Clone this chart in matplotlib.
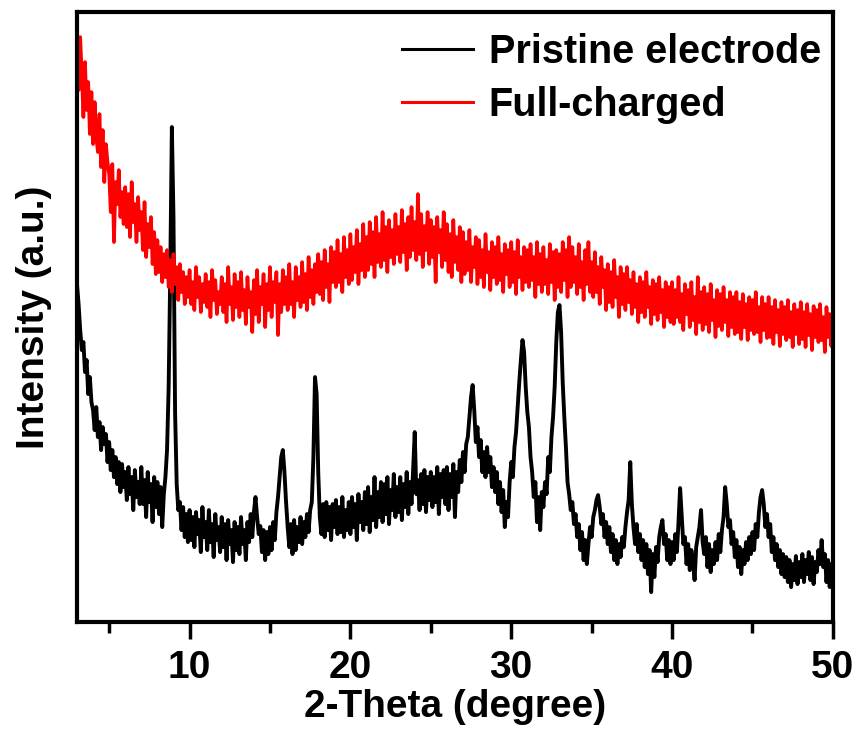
import numpy as np
import matplotlib
matplotlib.use('Agg')
import matplotlib.pyplot as plt

# scan grid, 0.1 degree step from 3 to 50
two_theta = np.round(np.arange(3.0, 50.05, 0.1), 1)

# intensities (arbitrary units), one row per degree
pristine = [
    338, 318, 292, 272, 280, 250, 262, 228, 245, 220,  # 3
    212, 192, 215, 185, 200, 172, 195, 178, 188, 160,  # 4
    180, 152, 172, 145, 165, 138, 160, 130, 158, 135,  # 5
    150, 122, 155, 128, 145, 112, 152, 125, 140, 118,  # 6
    155, 118, 142, 105, 150, 120, 138, 100, 145, 115,  # 7
    140, 108, 135, 95, 128, 145, 172, 235, 350, 495,  # 8
    405, 210, 138, 112, 120, 92, 115, 85, 108, 80,  # 9
    112, 82, 105, 75, 110, 88, 102, 70, 115, 85,  # 10
    100, 72, 112, 80, 98, 65, 108, 82, 95, 70,  # 11
    105, 75, 98, 62, 102, 78, 92, 60, 100, 72,  # 12
    95, 68, 105, 78, 92, 62, 100, 80, 108, 85,  # 13
    110, 125, 105, 88, 96, 70, 92, 62, 90, 68,  # 14
    95, 72, 100, 82, 110, 125, 145, 165, 172, 150,  # 15
    120, 95, 75, 98, 68, 102, 72, 95, 80, 105,  # 16
    78, 100, 85, 108, 90, 112, 120, 165, 245, 228,  # 17
    150, 105, 88, 118, 85, 120, 92, 115, 82, 118,  # 18
    95, 122, 88, 115, 90, 125, 85, 112, 92, 120,  # 19
    88, 125, 95, 118, 82, 128, 100, 120, 92, 130,  # 20
    98, 135, 90, 125, 102, 145, 95, 130, 105, 140,  # 21
    100, 138, 108, 145, 98, 132, 112, 148, 105, 135,  # 22
    110, 145, 102, 138, 115, 150, 108, 140, 118, 152,  # 23
    190, 128, 142, 112, 148, 118, 152, 110, 145, 122,  # 24
    150, 115, 145, 120, 155, 108, 148, 125, 152, 118,  # 25
    155, 112, 148, 125, 158, 105, 150, 130, 162, 140,  # 26
    170, 150, 178, 185, 205, 225, 237, 212, 180, 195,  # 27
    165, 182, 150, 170, 145, 175, 150, 165, 135, 155,  # 28
    130, 150, 118, 140, 110, 132, 95, 120, 105, 140,  # 29
    160, 145, 175, 190, 215, 240, 262, 282, 270, 235,  # 30
    210, 195, 165, 150, 125, 140, 100, 125, 92, 130,  # 31
    115, 140, 128, 165, 150, 185, 205, 235, 280, 310,  # 32
    317, 290, 240, 205, 175, 140, 128, 112, 120, 98,  # 33
    108, 85, 98, 72, 90, 62, 82, 58, 78, 95,  # 34
    85, 105, 112, 122, 127, 115, 98, 108, 85, 100,  # 35
    78, 95, 70, 88, 62, 82, 58, 78, 65, 85,  # 36
    75, 95, 110, 122, 160, 118, 95, 78, 98, 70,  # 37
    88, 62, 82, 55, 78, 48, 72, 30, 68, 45,  # 38
    75, 60, 85, 95, 102, 78, 88, 62, 82, 58,  # 39
    80, 62, 88, 70, 100, 134, 105, 78, 85, 58,  # 40
    78, 52, 72, 60, 42, 75, 85, 95, 112, 80,  # 41
    68, 85, 55, 78, 50, 72, 58, 80, 62, 88,  # 42
    70, 92, 105, 135, 118, 95, 102, 78, 90, 65,  # 43
    82, 55, 75, 48, 72, 58, 80, 62, 85, 68,  # 44
    90, 72, 98, 85, 110, 125, 132, 118, 95, 108,  # 45
    85, 98, 70, 85, 62, 78, 55, 72, 48, 68,  # 46
    45, 65, 40, 62, 35, 58, 42, 66, 38, 60,  # 47
    45, 68, 40, 62, 48, 70, 42, 65, 38, 60,  # 48
    50, 72, 58, 82, 55, 68, 40, 62, 35, 58,  # 49
    48,
]

full_charged = [
    590, 532, 585, 548, 505, 560, 512, 540, 488, 530,  # 3
    478, 520, 485, 470, 508, 455, 492, 440, 478, 460,  # 4
    448, 410, 458, 380, 440, 418, 452, 405, 430, 398,  # 5
    435, 395, 428, 385, 440, 400, 418, 380, 425, 392,  # 6
    410, 372, 420, 365, 398, 375, 405, 358, 390, 348,  # 7
    382, 350, 375, 340, 368, 345, 372, 335, 362, 330,  # 8
    368, 338, 355, 322, 358, 330, 350, 318, 345, 325,  # 9
    352, 318, 340, 312, 355, 325, 345, 310, 338, 320,  # 10
    348, 315, 340, 305, 352, 322, 342, 308, 330, 318,  # 11
    345, 310, 338, 300, 355, 318, 335, 302, 348, 315,  # 12
    340, 305, 350, 312, 332, 298, 345, 315, 330, 290,  # 13
    342, 308, 352, 300, 335, 318, 348, 295, 338, 312,  # 14
    355, 305, 340, 320, 350, 287, 338, 310, 352, 318,  # 15
    345, 312, 358, 318, 340, 305, 355, 322, 345, 315,  # 16
    360, 320, 348, 312, 365, 325, 352, 318, 358, 330,  # 17
    368, 328, 360, 322, 372, 335, 358, 320, 375, 340,  # 18
    370, 335, 382, 340, 368, 330, 385, 345, 372, 338,  # 19
    388, 342, 375, 350, 392, 338, 378, 352, 398, 345,  # 20
    385, 352, 400, 358, 390, 345, 405, 360, 388, 355,  # 21
    410, 362, 395, 350, 402, 365, 392, 358, 408, 368,  # 22
    395, 360, 412, 370, 398, 352, 405, 365, 415, 372,  # 23
    400, 362, 428, 368, 408, 355, 396, 372, 410, 358,  # 24
    402, 365, 395, 340, 405, 370, 392, 355, 410, 362,  # 25
    398, 350, 388, 345, 402, 360, 385, 352, 395, 340,  # 26
    390, 348, 380, 352, 392, 340, 375, 355, 385, 338,  # 27
    382, 345, 372, 335, 388, 350, 370, 332, 380, 345,  # 28
    375, 338, 385, 342, 368, 330, 378, 348, 372, 335,  # 29
    380, 340, 370, 328, 382, 345, 365, 332, 375, 340,  # 30
    372, 335, 378, 342, 365, 325, 380, 338, 368, 330,  # 31
    375, 338, 362, 328, 378, 340, 370, 322, 372, 335,  # 32
    368, 330, 380, 342, 372, 325, 385, 335, 375, 340,  # 33
    365, 328, 378, 335, 360, 322, 372, 338, 380, 330,  # 34
    360, 325, 370, 330, 355, 318, 365, 335, 352, 312,  # 35
    358, 320, 350, 315, 362, 325, 345, 305, 355, 318,  # 36
    348, 312, 355, 320, 342, 308, 350, 315, 338, 300,  # 37
    345, 310, 340, 305, 350, 315, 335, 298, 342, 308,  # 38
    338, 302, 345, 310, 332, 295, 340, 305, 335, 300,  # 39
    340, 298, 332, 305, 345, 300, 328, 292, 338, 308,  # 40
    332, 295, 340, 302, 325, 288, 345, 300, 330, 292,  # 41
    335, 298, 328, 290, 338, 302, 322, 285, 332, 296,  # 42
    328, 292, 335, 300, 322, 286, 330, 295, 325, 288,  # 43
    330, 290, 320, 283, 328, 295, 318, 282, 325, 292,  # 44
    322, 288, 330, 290, 315, 280, 325, 292, 318, 284,  # 45
    325, 285, 315, 278, 322, 290, 312, 276, 320, 288,  # 46
    315, 282, 322, 285, 310, 275, 318, 288, 312, 278,  # 47
    320, 283, 310, 275, 318, 287, 308, 272, 316, 285,  # 48
    312, 280, 318, 282, 305, 270, 315, 285, 308, 276,  # 49
    305,
]

labels = ['Pristine electrode', 'Full-charged']
x_ticks = [10, 20, 30, 40, 50]


def main():
    plt.rcParams['font.family'] = ['Liberation Sans', 'DejaVu Sans']
    plt.rcParams['font.weight'] = 'bold'
    fig = plt.figure(figsize=(8.6, 7.31), dpi=100)
    ax = fig.add_axes([0.0895, 0.149, 0.879, 0.8345])

    ax.plot(two_theta, pristine, color='black', lw=2.8, label=labels[0])
    ax.plot(two_theta, full_charged, color='#ff0000', lw=2.6, label=labels[1])

    ax.set_xlim(3, 50)
    ax.set_ylim(0, 610)
    ax.set_xticks(x_ticks)
    ax.set_xticks([5, 15, 25, 35, 45], minor=True)
    ax.set_yticks([])
    ax.tick_params(axis='x', which='major', length=12, width=2.5, direction='out',
                   labelsize=28, pad=8)
    ax.tick_params(axis='x', which='minor', length=8, width=2.5, direction='out')
    for sp in ax.spines.values():
        sp.set_linewidth(3)

    ax.set_xlabel('2-Theta (degree)', fontsize=28, fontweight='bold', labelpad=2)
    ax.set_ylabel('Intensity (a.u.)', fontsize=28, fontweight='bold', labelpad=18)

    leg = ax.legend(loc='upper right', bbox_to_anchor=(1.0, 0.985), frameon=False,
                    handlelength=1.8, handletextpad=0.4, labelspacing=0.38,
                    borderaxespad=0.2, borderpad=0.1,
                    prop={'weight': 'bold', 'size': 28.5})
    for h in leg.get_lines():
        h.set_linewidth(2.2)

    fig.savefig('out.png', dpi=100)


if __name__ == '__main__':
    main()
